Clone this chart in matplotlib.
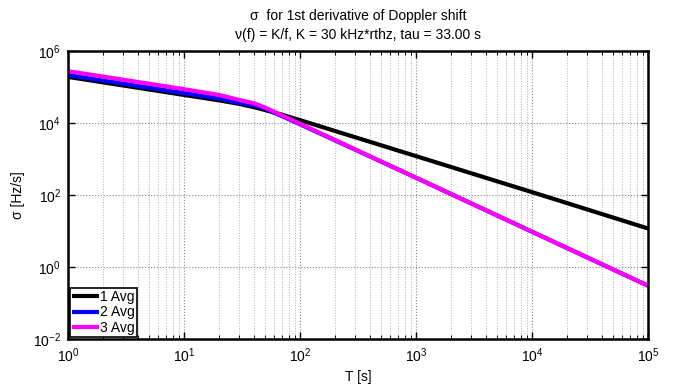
import numpy as np
import matplotlib.pyplot as plt
from matplotlib.ticker import LogLocator, NullFormatter

plt.rcParams['font.family'] = ['Liberation Sans', 'DejaVu Sans']

# averaging time T [s]
T = [1, 10, 20, 30, 40, 50, 70, 100, 1e3, 1e4, 1e5]

# sigma values (log10)
log_avg1 = [5.28, 4.78, 4.63, 4.53, 4.44, 4.36, 4.23, 4.08, 3.08, 2.08, 1.07]
log_avg2 = [5.33, 4.83, 4.68, 4.56, 4.49, 4.40, 4.19, 3.965, 2.48, 0.98, -0.52]
log_avg3 = [5.44, 4.94, 4.78, 4.64, 4.55, 4.43, 4.21, 3.98, 2.48, 0.98, -0.52]

labels = ["1 Avg", "2 Avg", "3 Avg"]
colors = ["black", "blue", "magenta"]

fig = plt.figure(figsize=(6.79, 3.87), dpi=100)
ax = fig.add_axes([68 / 679, 1 - 339 / 387, 580 / 679, 288 / 387])

for vals, lab, c in zip([log_avg1, log_avg2, log_avg3], labels, colors):
    ax.loglog(T, 10.0 ** np.array(vals), color=c, lw=3, label=lab,
              solid_joinstyle="round", solid_capstyle="butt")

ax.set_xlim(1, 1e5)
ax.set_ylim(1e-2, 1e6)

ax.xaxis.set_major_locator(LogLocator(base=10, numticks=10))
ax.xaxis.set_minor_locator(LogLocator(base=10, subs=np.arange(2, 10), numticks=20))
ax.xaxis.set_minor_formatter(NullFormatter())
ax.set_yticks([1e-2, 1e0, 1e2, 1e4, 1e6])
ax.yaxis.set_minor_locator(plt.NullLocator())

ax.grid(True, which="major", ls=":", color="#888888", lw=0.8)
ax.grid(True, which="minor", axis="x", ls=":", color="#b0b0b0", lw=0.7)

ax.tick_params(which="both", direction="in", top=True, right=True, labelsize=10)
ax.tick_params(which="major", length=5, width=1, pad=5)
ax.tick_params(which="minor", length=3, width=0.7)
for s in ax.spines.values():
    s.set_linewidth(1.8)

ax.set_xlabel("T [s]", fontsize=10, labelpad=4)
ax.set_ylabel("σ [Hz/s]", fontsize=10, labelpad=6)
ax.set_title("σ  for 1st derivative of Doppler shift\n"
             "ν(f) = K/f, K = 30 kHz*rthz, tau = 33.00 s", fontsize=10,
             linespacing=1.45, pad=9)

leg = ax.legend(loc="lower left", fontsize=10, handlelength=1.9,
                handletextpad=0.1, borderaxespad=0.15, borderpad=0.15,
                labelspacing=0.1, fancybox=False, framealpha=1)
leg.get_frame().set_edgecolor("black")
leg.get_frame().set_linewidth(1.2)

fig.savefig("out.png", dpi=100)
